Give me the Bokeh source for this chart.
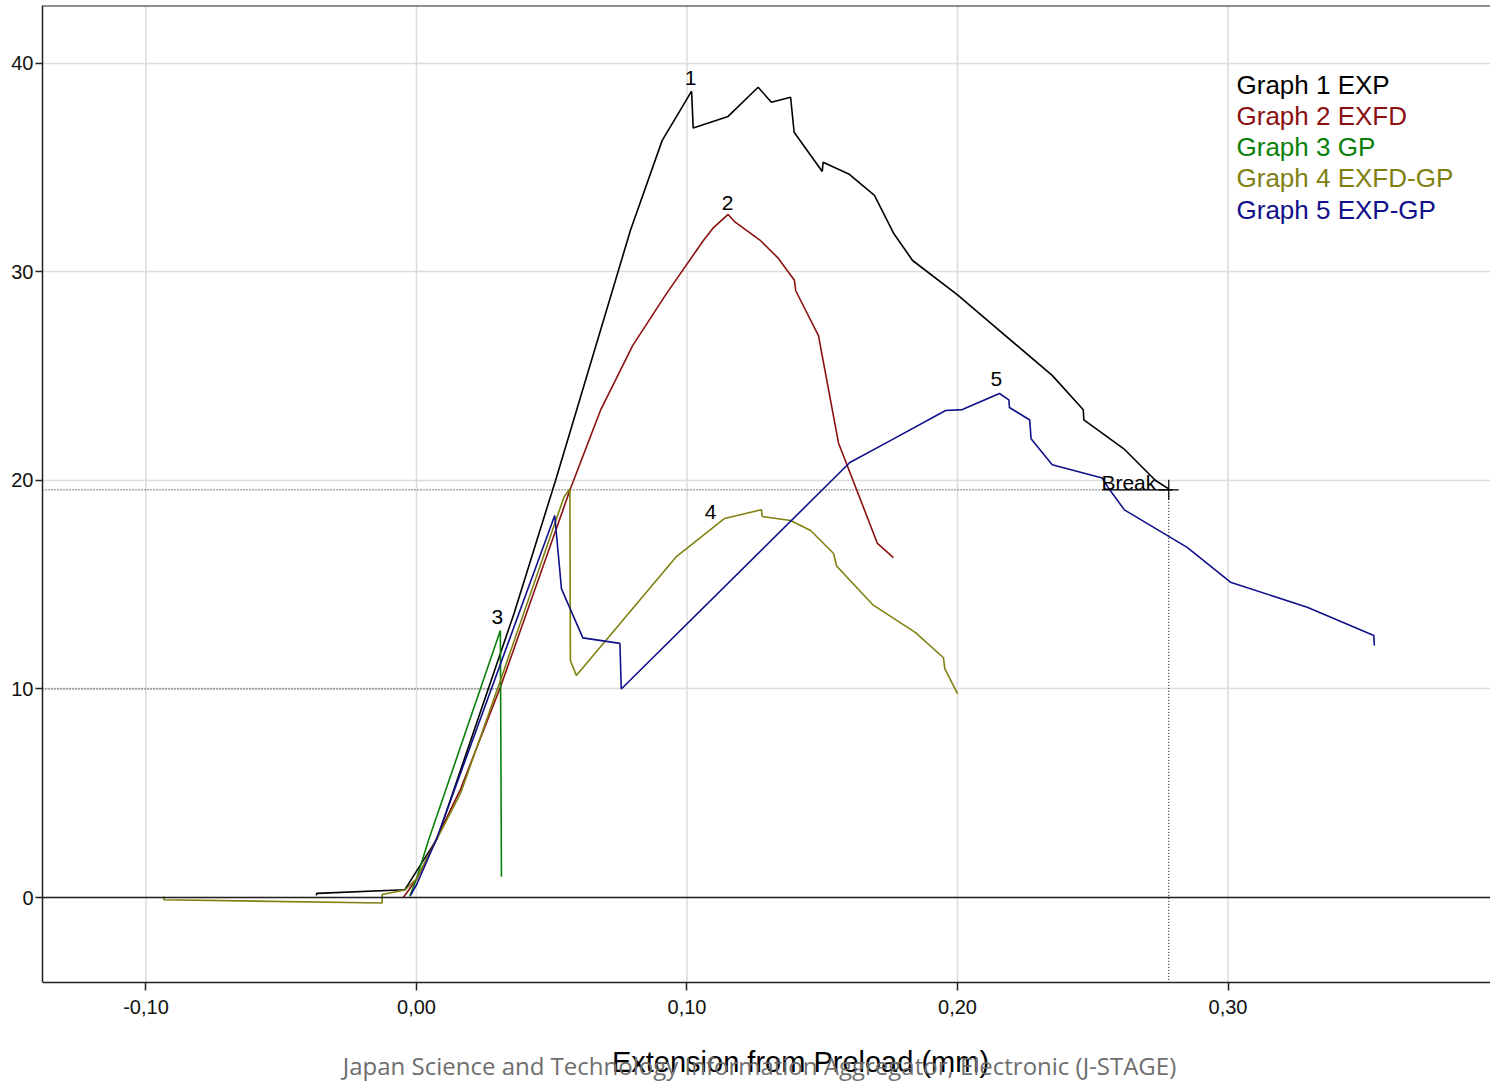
from bokeh.plotting import figure
from bokeh.models import Range1d, FixedTicker, CustomJSTickFormatter, Span, Label
from bokeh.embed import file_html
from bokeh.resources import INLINE

# ---------------- data ----------------
series_names = ["Graph 1 EXP", "Graph 2 EXFD", "Graph 3 GP", "Graph 4 EXFD-GP", "Graph 5 EXP-GP"]
series_colors = ["#000000", "#8b1010", "#0a800a", "#808010", "#10108a"]

x1 = [-0.037, -0.0369, -0.0043, 0.0002, 0.0076, 0.036, 0.0514, 0.0791, 0.0908, 0.1017, 0.1023,
      0.1152, 0.1263, 0.1312, 0.1383, 0.1396, 0.150, 0.1503, 0.1598, 0.1693, 0.1765, 0.1834,
      0.200, 0.235, 0.2465, 0.2467, 0.2615, 0.2732, 0.2781]
y1 = [0.1, 0.2, 0.37, 1.3, 2.81, 13.6, 20.0, 32.0, 36.3, 38.67, 36.9,
      37.46, 38.86, 38.14, 38.38, 36.7, 34.82, 35.26, 34.70, 33.67, 31.83, 30.55,
      28.9, 25.04, 23.39, 22.91, 21.52, 20.0, 19.6]

x2 = [-0.0049, 0.0002, 0.0163, 0.031, 0.0569, 0.068, 0.0799, 0.0921, 0.106, 0.1096, 0.1152,
      0.1177, 0.1272, 0.1338, 0.1397, 0.1402, 0.1486, 0.156, 0.1704, 0.1763]
y2 = [0.0, 0.9, 5.2, 10.08, 19.6, 23.36, 26.47, 28.9, 31.5, 32.1, 32.76,
      32.4, 31.5, 30.65, 29.6, 29.1, 26.95, 21.8, 16.98, 16.3]

x3 = [-0.0025, 0.0, 0.0046, 0.031, 0.0314]
y3 = [0.05, 0.9, 2.81, 12.8, 1.0]

x4 = [-0.0934, -0.0934, -0.0127, -0.0127, -0.0043, 0.0, 0.0163, 0.031, 0.0545, 0.0567, 0.0569,
      0.0591, 0.0961, 0.1139, 0.1275, 0.1278, 0.1383, 0.1457, 0.1542, 0.1553, 0.1686, 0.1845,
      0.1948, 0.1953, 0.200]
y4 = [0.05, -0.11, -0.26, 0.14, 0.36, 0.9, 5.0, 10.4, 19.2, 19.6, 11.37,
      10.65, 16.35, 18.18, 18.6, 18.27, 18.08, 17.6, 16.5, 15.9, 14.05, 12.7,
      11.5, 10.98, 9.78]

x5 = [-0.0022, 0.0002, 0.0074, 0.0511, 0.0536, 0.0615, 0.0752, 0.0757, 0.1602, 0.175, 0.1956,
      0.2018, 0.2155, 0.219, 0.2192, 0.2267, 0.2272, 0.235, 0.2535, 0.256, 0.2617, 0.2849,
      0.3009, 0.3293, 0.3539, 0.3541]
y5 = [0.1, 0.66, 2.81, 18.32, 14.8, 12.45, 12.19, 10.0, 20.86, 21.9, 23.36,
      23.4, 24.17, 23.87, 23.5, 22.9, 22.0, 20.75, 20.12, 19.6, 18.59, 16.79,
      15.12, 13.92, 12.57, 12.09]

series_x = [x1, x2, x3, x4, x5]
series_y = [y1, y2, y3, y4, y5]

peak_labels = ["1", "2", "3", "4", "5"]
peak_label_x = [0.1013, 0.115, 0.0299, 0.1087, 0.2144]
peak_label_y = [39.28, 33.29, 13.43, 18.47, 24.89]

break_x = 0.2781
break_y = 19.55
ref_y2 = 10.0
ref_x2 = 0.031

x_ticks = [-0.1, 0.0, 0.1, 0.2, 0.3]
y_ticks = [0, 10, 20, 30, 40]

X_START, X_END = -0.13826, 0.39704
AXIS_BOTTOM = -4.077          # where the x axis sits
Y_START, Y_END = -8.92, 42.78  # visible range (room for axis texts)

FONT = "Liberation Sans"

# ---------------- figure ----------------
p = figure(width=1490, height=1083, output_backend="svg", toolbar_location=None,
           x_range=Range1d(X_START, X_END), y_range=Range1d(Y_START, Y_END),
           min_border_left=42, min_border_right=0, min_border_top=5, min_border_bottom=0)
p.outline_line_color = None
p.background_fill_color = "white"
p.border_fill_color = "white"

p.xaxis.ticker = FixedTicker(ticks=x_ticks)
p.yaxis.ticker = FixedTicker(ticks=y_ticks)
p.xaxis.formatter = CustomJSTickFormatter(code="return tick.toFixed(2).replace('.', ',');")
p.yaxis.formatter = CustomJSTickFormatter(code="return tick.toFixed(0);")
p.xaxis.fixed_location = AXIS_BOTTOM
p.yaxis.bounds = (AXIS_BOTTOM, Y_END)
p.xaxis.bounds = (X_START, X_END)
for ax in (p.xaxis, p.yaxis):
    ax.axis_line_color = "#222222"
    ax.axis_line_width = 1.5
    ax.major_tick_line_color = "#222222"
    ax.major_tick_line_width = 1.5
    ax.major_tick_in = 0
    ax.minor_tick_line_color = None
    ax.major_label_text_font = FONT
    ax.major_label_text_font_size = "20px"
    ax.major_label_text_color = "#111111"
p.xaxis.major_tick_out = 8
p.xaxis.major_label_standoff = 9
p.yaxis.major_tick_out = 7
p.yaxis.major_label_standoff = 2

# grid: horizontal through axis ticks, vertical ones stop at the x axis
p.ygrid.grid_line_color = "#dcdcdc"
p.ygrid.grid_line_width = 1.5
p.xgrid.grid_line_color = None
p.segment(x0=x_ticks, y0=[AXIS_BOTTOM] * len(x_ticks), x1=x_ticks, y1=[Y_END] * len(x_ticks),
          line_color="#dcdcdc", line_width=1.5, level="underlay")

# top border
p.add_layout(Span(location=Y_END, dimension="width", line_color="#222222", line_width=2))
# zero line
p.add_layout(Span(location=0, dimension="width", line_color="#222222", line_width=1.5))

# reference dotted lines
p.line([X_START, break_x], [break_y, break_y], line_color="black", line_width=1, line_dash="1 2")
p.line([break_x, break_x], [break_y, AXIS_BOTTOM], line_color="black", line_width=1, line_dash="1 2")
p.line([X_START, ref_x2], [ref_y2, ref_y2], line_color="black", line_width=1, line_dash="1 2")
p.line([0.2535, break_x + 0.0015], [break_y, break_y], line_color="black", line_width=1.2)

# curves
for xs, ys, c in zip(series_x, series_y, series_colors):
    p.line(xs, ys, line_color=c, line_width=1.6)

# break marker
p.scatter([break_x], [break_y], marker="cross", size=20, line_color="black", line_width=1.2)

# peak labels
for t, xx, yy in zip(peak_labels, peak_label_x, peak_label_y):
    p.add_layout(Label(x=xx, y=yy, text=t, text_font=FONT, text_font_size="21px",
                       text_align="center", text_baseline="middle", text_color="black"))
p.add_layout(Label(x=0.2532, y=19.9, text="Break", text_font=FONT, text_font_size="21px",
                   text_align="left", text_baseline="middle", text_color="black"))

# legend (coloured text)
for i, (name, c) in enumerate(zip(series_names, series_colors)):
    p.add_layout(Label(x=1194, y=999 - i * 31.3, x_units="screen", y_units="screen",
                       text=name, text_font=FONT, text_font_size="26px",
                       text_align="left", text_baseline="middle", text_color=c))

# axis title and watermark
p.add_layout(Label(x=758, y=22, x_units="screen", y_units="screen",
                   text="Extension from Preload (mm)", text_font=FONT, text_font_size="29px",
                   text_align="center", text_baseline="middle", text_color="black"))
p.add_layout(Label(x=717, y=18, x_units="screen", y_units="screen",
                   text="Japan Science and Technology Information Aggregator, Electronic (J-STAGE)",
                   text_font="Open Sans", text_font_size="24px",
                   text_align="center", text_baseline="middle", text_color="#6e6e6e"))

open("out.html", "w").write(file_html(p, INLINE))
